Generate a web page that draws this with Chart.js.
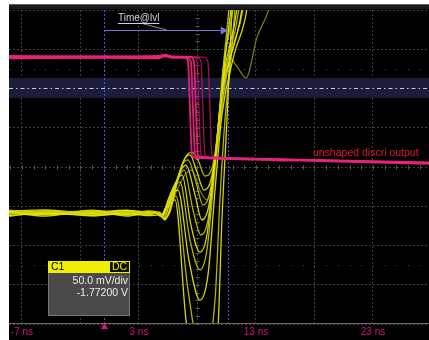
<!DOCTYPE html>
<html>
<head>
<meta charset="utf-8">
<script src="https://cdn.jsdelivr.net/npm/chart.js@4.4.0/dist/chart.umd.min.js"></script>
<style>
  html, body { margin: 0; padding: 0; background: #fff; }
</style>
</head>
<body>
<canvas id="scope" width="429" height="340"></canvas>
<script>
// Time axis (ns) and tick labels
const xTickValues = [-7, -2, 3, 8, 13, 18, 23];
const xTickLabels = ['-7 ns', '', '3 ns', '', '13 ns', '', '23 ns'];
// Vertical grid in divisions
const yTickValues = [-4, -3, -2, -1, 0, 1, 2, 3, 4];

// C1 (yellow) persistence traces, [ns, div]
const c1Trace1 = [[-8.1,-1.10],[-5,-1.16],[-1,-1.12],[2,-1.17],[3.8,-1.13],[4.79,-1.20],[5.22,-1.30],[5.65,-1.15],[6.33,-0.33],[6.93,0.23],[7.53,0.38],[8.04,0.18],[8.64,-0.23],[9.24,-0.03],[9.75,0.94],[10.26,2.73],[10.69,4.03],[10.95,4.76]];
const c1Trace2 = [[-8.1,-1.24],[-5,-1.18],[-1,-1.23],[2,-1.19],[3.8,-1.24],[4.79,-1.22],[5.22,-1.32],[5.65,-1.10],[6.25,-0.38],[6.85,0.18],[7.36,0.31],[7.96,-0.13],[8.56,-0.59],[9.15,-0.33],[9.75,0.82],[10.35,2.73],[10.86,4.03],[11.12,4.76]];
const c1Trace3 = [[-8.1,-1.17],[-5,-1.22],[-1,-1.15],[2,-1.23],[3.8,-1.18],[4.79,-1.17],[5.22,-1.35],[5.65,-1.04],[6.16,-0.46],[6.68,0.05],[7.19,0.18],[7.87,-0.38],[8.47,-0.97],[9.07,-0.64],[9.67,0.69],[10.18,2.47],[11.03,4.03],[11.29,4.76]];
const c1Trace4 = [[-8.1,-1.13],[-5,-1.09],[-1,-1.18],[2,-1.11],[3.8,-1.15],[4.79,-1.20],[5.13,-1.32],[5.56,-0.99],[6.08,-0.48],[6.50,-0.13],[7.02,0.05],[7.79,-0.71],[8.38,-1.35],[8.98,-0.97],[9.58,0.43],[10.18,2.22],[11.38,4.03],[11.63,4.76]];
const c1Trace5 = [[-8.1,-1.21],[-5,-1.13],[-1,-1.20],[2,-1.15],[3.8,-1.21],[4.79,-1.15],[5.05,-1.30],[5.48,-0.97],[6.08,-0.46],[6.85,-0.08],[7.62,-1.10],[8.30,-1.73],[8.90,-1.35],[9.50,0.18],[10.09,1.96],[11.55,4.03],[11.80,4.76]];
const c1Trace6 = [[-8.1,-1.15],[-5,-1.25],[-1,-1.10],[2,-1.21],[3.8,-1.12],[4.71,-1.17],[4.97,-1.27],[5.48,-0.84],[6.16,-0.38],[6.68,-0.20],[7.44,-1.48],[8.21,-2.17],[8.81,-1.73],[9.41,-0.08],[10.01,1.71],[11.80,4.03],[12.06,4.76]];
const c1Trace7 = [[-8.1,-1.26],[-5,-1.15],[-1,-1.22],[2,-1.13],[3.8,-1.19],[4.71,-1.15],[4.97,-1.27],[5.39,-0.97],[5.99,-0.54],[6.50,-0.38],[7.36,-1.86],[8.21,-2.62],[8.81,-2.11],[9.41,-0.33],[10.01,1.45],[10.95,2.98],[11.89,4.03],[12.15,4.76]];
const c1Trace8 = [[-8.1,-1.12],[-5,-1.20],[-1,-1.13],[2,-1.25],[3.8,-1.16],[4.62,-1.20],[4.88,-1.25],[5.39,-0.97],[5.82,-0.71],[6.33,-0.59],[7.27,-2.37],[8.21,-3.39],[8.90,-2.75],[9.50,-0.59],[10.09,1.32],[11.12,2.85],[12.23,4.03],[12.49,4.76]];
const c1Trace9 = [[-8.1,-1.19],[-5,-1.11],[-1,-1.25],[2,-1.16],[3.8,-1.22],[4.62,-1.17],[4.88,-1.25],[5.30,-1.02],[6.16,-0.74],[7.19,-3.13],[8.38,-4.92],[9.50,-3.39],[9.92,-0.84],[10.35,1.20],[10.78,2.47],[11.21,4.03],[11.38,4.76]];
const c1Trace10 = [[-8.1,-1.14],[-5,-1.21],[-1,-1.16],[2,-1.10],[3.8,-1.20],[4.54,-1.17],[4.79,-1.25],[5.30,-1.07],[6.08,-0.84],[7.02,-3.90],[8.47,-6.45],[9.75,-4.15],[10.09,-1.35],[10.52,1.20],[10.95,4.03],[11.12,4.76]];
const c1Trace11 = [[-8.1,-1.17],[-5,-1.14],[-1,-1.19],[2,-1.14],[3.8,-1.17],[4.79,-1.20],[5.22,-1.35],[6.08,-0.71],[6.93,-0.20],[7.53,-0.08],[8.21,-0.59],[8.81,-0.84],[9.41,-0.08],[10.09,1.45],[10.69,2.80],[11.46,2.52],[12.15,2.27],[13.09,3.31],[14.11,4.03],[14.62,4.76]];

// unshaped discri output (magenta) traces, [ns, div]
const discri1 = [[-8.1,2.80],[0,2.81],[4.62,2.80],[5.22,2.84],[5.82,2.80],[6.85,2.80],[7.19,2.68],[7.36,1.45],[7.53,0.31],[7.87,0.23],[10.78,0.22],[16.76,0.18],[27.8,0.10]];
const discri2 = [[-8.1,2.77],[0,2.78],[4.62,2.77],[5.22,2.82],[5.82,2.78],[7.10,2.78],[7.44,2.67],[7.62,1.45],[7.79,0.31],[8.13,0.24],[10.78,0.20],[16.76,0.16],[27.8,0.08]];
const discri3 = [[-8.1,2.83],[0,2.82],[4.62,2.83],[5.22,2.86],[5.82,2.82],[7.36,2.81],[7.70,2.68],[7.87,1.45],[8.04,0.31],[8.38,0.26],[10.78,0.23],[16.76,0.19],[27.8,0.12]];
const discri4 = [[-8.1,2.79],[0,2.80],[4.62,2.79],[5.22,2.84],[5.82,2.80],[7.62,2.80],[7.96,2.68],[8.13,1.45],[8.30,0.31],[8.64,0.23],[10.78,0.21],[16.76,0.18],[27.8,0.10]];
const discri5 = [[-8.1,2.81],[0,2.80],[4.62,2.81],[5.22,2.84],[5.82,2.80],[7.96,2.80],[8.30,2.68],[8.47,1.45],[8.64,0.31],[8.98,0.24],[10.78,0.22],[16.76,0.19],[27.8,0.11]];
const discri6 = [[-8.1,2.80],[0,2.79],[4.62,2.80],[5.22,2.85],[5.82,2.81],[8.56,2.80],[8.90,2.68],[9.07,1.45],[9.24,0.31],[9.58,0.23],[10.78,0.22],[16.76,0.18],[27.8,0.10]];

const c1Traces = [c1Trace1, c1Trace2, c1Trace3, c1Trace4, c1Trace5, c1Trace6, c1Trace7, c1Trace8, c1Trace9, c1Trace10];
const discriTraces = [discri1, discri2, discri3, discri4, discri5, discri6];

// screen decorations (ns / div)
const bandLow = 1.76, bandHigh = 2.27, bandLevel = 2.01;
const cursorStart = 0, cursorEnd = 10.6;
const arrowLevel = 3.49;

const toXY = pts => pts.map(p => ({ x: p[0], y: p[1] }));

const datasets = [];
discriTraces.forEach((t, i) => {
  datasets.push({
    data: toXY(t),
    borderColor: i < 3 ? 'rgba(236,34,124,0.95)' : 'rgba(196,22,102,0.8)',
    borderWidth: i < 3 ? 1.8 : 1.3
  });
});
c1Traces.forEach((t, i) => {
  datasets.push({
    data: toXY(t),
    borderColor: i % 2 ? 'rgba(236,236,16,0.9)' : 'rgba(210,210,0,0.85)',
    borderWidth: 1.3
  });
});
datasets.push({ data: toXY(c1Trace11), borderColor: 'rgba(140,140,24,0.9)', borderWidth: 1.2 });
datasets.forEach(d => {
  d.pointRadius = 0;
  d.fill = false;
  d.cubicInterpolationMode = 'monotone';
});

const scopeScreen = {
  id: 'scopeScreen',
  beforeDraw(chart) {
    const { ctx, width, height, chartArea: a } = chart;
    ctx.save();
    ctx.fillStyle = '#ffffff';
    ctx.fillRect(0, 0, width, height);
    ctx.fillStyle = '#000000';
    ctx.fillRect(a.left, 4, width - a.left, height - 4);
    ctx.fillStyle = '#1b1b1b';
    ctx.fillRect(a.left, 5, width - a.left, a.top - 6);
    ctx.fillStyle = '#5c5c5c';
    ctx.fillRect(a.left, 4, width - a.left, 1);
    ctx.restore();
  },
  beforeDatasetsDraw(chart) {
    const { ctx, chartArea: a, scales: { x, y } } = chart;
    ctx.save();
    // threshold band
    ctx.fillStyle = '#1c1c3c';
    ctx.fillRect(a.left, y.getPixelForValue(bandHigh), a.right - a.left, y.getPixelForValue(bandLow) - y.getPixelForValue(bandHigh));
    ctx.strokeStyle = '#c8c8d8';
    ctx.lineWidth = 1;
    ctx.setLineDash([4, 3, 1.5, 3]);
    ctx.beginPath();
    const by = Math.round(y.getPixelForValue(bandLevel)) + 0.5;
    ctx.moveTo(a.left, by); ctx.lineTo(a.right, by);
    ctx.stroke();
    ctx.setLineDash([]);

    // center tick marks and dotted rows
    ctx.strokeStyle = '#5a5a5a';
    ctx.beginPath();
    const cy = Math.round(y.getPixelForValue(0)) + 0.5;
    for (let t = -8; t <= 28; t += 1) {
      const px = Math.round(x.getPixelForValue(t)) + 0.5;
      if (px < a.left) continue;
      ctx.moveTo(px, cy - 2); ctx.lineTo(px, cy + 2);
    }
    const cx = Math.round(x.getPixelForValue(8)) + 0.5;
    for (let v = -4; v <= 4; v += 0.2) {
      const py = Math.round(y.getPixelForValue(v)) + 0.5;
      ctx.moveTo(cx - 2, py); ctx.lineTo(cx + 2, py);
    }
    ctx.stroke();
    ctx.fillStyle = '#4a4a4a';
    [2.5, -2.5].forEach(v => {
      const py = Math.round(y.getPixelForValue(v));
      for (let t = -8; t <= 28; t += 1) {
        const px = Math.round(x.getPixelForValue(t));
        if (px < a.left) continue;
        ctx.fillRect(px, py, 1, 1);
      }
    });

    // cursors
    ctx.strokeStyle = '#5050e8';
    ctx.setLineDash([2, 2]);
    ctx.beginPath();
    [cursorStart, cursorEnd].forEach(t => {
      const px = Math.round(x.getPixelForValue(t)) + 0.5;
      ctx.moveTo(px, a.top); ctx.lineTo(px, a.bottom);
    });
    ctx.stroke();
    ctx.restore();
  },
  afterDraw(chart) {
    const { ctx, chartArea: a, scales: { x, y } } = chart;
    ctx.save();
    // bottom axis line
    ctx.fillStyle = '#6a6a6a';
    ctx.fillRect(a.left, Math.round(a.bottom) - 1, a.right - a.left, 1);

    // Time@lvl measurement arrow
    const x0 = x.getPixelForValue(cursorStart), x1 = x.getPixelForValue(cursorEnd);
    const ay = Math.round(y.getPixelForValue(arrowLevel)) + 0.5;
    ctx.strokeStyle = '#7474dc';
    ctx.fillStyle = '#7474dc';
    ctx.lineWidth = 1.2;
    ctx.beginPath(); ctx.moveTo(x0, ay); ctx.lineTo(x1 - 5, ay); ctx.stroke();
    ctx.beginPath(); ctx.moveTo(x1, ay); ctx.lineTo(x1 - 7, ay - 4); ctx.lineTo(x1 - 7, ay + 4); ctx.closePath(); ctx.fill();
    ctx.strokeStyle = '#8c8ca0';
    ctx.lineWidth = 1;
    ctx.beginPath();
    ctx.moveTo(x.getPixelForValue(3.09), y.getPixelForValue(3.67));
    ctx.lineTo(x.getPixelForValue(5.39), y.getPixelForValue(3.49));
    ctx.stroke();
    ctx.font = '10px "Liberation Sans", Arial, sans-serif';
    ctx.fillStyle = '#d4d4dc';
    ctx.textBaseline = 'alphabetic';
    const lx = x.getPixelForValue(1.2), ly = y.getPixelForValue(3.72);
    ctx.fillText('Time@lvl', lx, ly);
    const tw = ctx.measureText('Time@lvl').width;
    ctx.fillRect(lx, ly + 2, tw, 1);

    // trace label
    ctx.font = '10.5px "Liberation Sans", Arial, sans-serif';
    ctx.fillStyle = '#dc1c2c';
    ctx.fillText('unshaped discri output', x.getPixelForValue(17.87), y.getPixelForValue(0.28));

    // trigger marker
    const tx = Math.round(x.getPixelForValue(cursorStart)) + 0.5;
    ctx.fillStyle = '#e0107a';
    ctx.beginPath();
    ctx.moveTo(tx, a.bottom - 1); ctx.lineTo(tx - 3.5, a.bottom + 5); ctx.lineTo(tx + 3.5, a.bottom + 5);
    ctx.closePath(); ctx.fill();

    // C1 channel descriptor
    const bx = 48, bt = 261, bw = 82, bh = 55;
    ctx.fillStyle = '#4a4a4a';
    ctx.fillRect(bx, bt, bw, bh);
    ctx.strokeStyle = '#777777';
    ctx.strokeRect(bx + 0.5, bt + 0.5, bw - 1, bh - 1);
    ctx.fillStyle = '#f0f000';
    ctx.fillRect(bx, bt, bw, 12);
    ctx.fillStyle = '#111111';
    ctx.fillRect(bx + 62, bt + 1, 19, 10);
    ctx.font = '10.5px "Liberation Sans", Arial, sans-serif';
    ctx.textBaseline = 'middle';
    ctx.fillStyle = '#000000';
    ctx.fillText('C1', bx + 3, bt + 6.5);
    ctx.fillStyle = '#e8e800';
    ctx.textAlign = 'center';
    ctx.fillText('DC', bx + 71.5, bt + 6.5);
    ctx.textAlign = 'right';
    ctx.fillStyle = '#ececec';
    ctx.fillText('50.0 mV/div', bx + 80, bt + 20);
    ctx.fillText('-1.77200 V', bx + 80, bt + 32);
    ctx.restore();
  }
};

new Chart(document.getElementById('scope'), {
  type: 'line',
  data: { datasets: datasets },
  options: {
    responsive: false,
    devicePixelRatio: 1,
    animation: false,
    layout: { padding: { left: 9, top: 10, right: 0, bottom: 0 } },
    plugins: { legend: { display: false }, tooltip: { enabled: false } },
    elements: { line: { borderJoinStyle: 'round' } },
    scales: {
      x: {
        type: 'linear',
        min: -8.11,
        max: 27.79,
        afterBuildTicks: s => { s.ticks = xTickValues.map(v => ({ value: v })); },
        afterFit: s => { s.height = 16; },
        grid: { color: '#3e3e3e', drawTicks: false },
        border: { display: false, dash: [2, 2] },
        ticks: {
          autoSkip: false,
          maxRotation: 0,
          padding: 2,
          color: '#d6107a',
          font: { family: '"Liberation Sans", Arial, sans-serif', size: 10 },
          callback: v => xTickLabels[xTickValues.indexOf(v)]
        }
      },
      y: {
        type: 'linear',
        min: -4,
        max: 4,
        afterBuildTicks: s => { s.ticks = yTickValues.map(v => ({ value: v })); },
        afterFit: s => { s.width = 0; },
        grid: { color: '#3e3e3e', drawTicks: false },
        border: { display: false, dash: [2, 2] },
        ticks: { display: false }
      }
    }
  },
  plugins: [scopeScreen]
});
</script>
</body>
</html>
